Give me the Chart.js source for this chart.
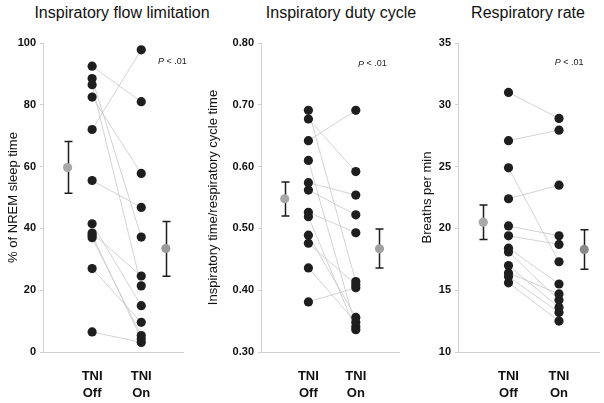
<!DOCTYPE html>
<html lang="en">
<head>
<meta charset="utf-8">
<title>TNI panels</title>
<script src="https://cdn.jsdelivr.net/npm/chart.js@4.4.1/dist/chart.umd.min.js"></script>
<style>
  body { margin: 0; background: #fff; }
  #Page { position: relative; width: 604px; height: 403px; overflow: hidden; font-family: "Liberation Sans", Arial, sans-serif; }
  .ttl { position: absolute; top: 4px; font-size: 16px; color: #111; white-space: nowrap; transform: translateX(-50%); }
  canvas { position: absolute; top: 0; }
</style>
</head>
<body>
<div id="Page">
  <div class="ttl" style="left:122px">Inspiratory flow limitation</div>
  <div class="ttl" style="left:341px">Inspiratory duty cycle</div>
  <div class="ttl" style="left:528px">Respiratory rate</div>
  <canvas id="flowChart" style="left:0px" width="200" height="403"></canvas>
  <canvas id="dutyChart" style="left:200px" width="204" height="403"></canvas>
  <canvas id="rateChart" style="left:400px" width="204" height="403"></canvas>
</div>
<script>
// x positions: 1 = mean off, 2 = TNI Off, 4 = TNI On, 5 = mean on
const groups = ['TNI Off', 'TNI On'];

// Inspiratory flow limitation (% of NREM sleep time), paired by patient
const flowOff = [92.5, 88.5, 86.5, 82.5, 72.0, 55.5, 41.5, 38.5, 37.8, 37.0, 27.0, 6.5];
const flowOn  = [81.0, 37.2, 21.4, 57.8, 97.8, 46.8, 15.0, 24.6, 4.2, 5.3, 9.6, 3.1];
const flowMean = [59.7, 33.5];
const flowHi = [68.1, 42.2];
const flowLo = [51.4, 24.5];

// Inspiratory duty cycle
const dutyOff = [0.691, 0.677, 0.642, 0.610, 0.574, 0.562, 0.526, 0.519, 0.489, 0.476, 0.436, 0.381];
const dutyOn  = [0.414, 0.592, 0.691, 0.341, 0.554, 0.522, 0.493, 0.336, 0.356, 0.409, 0.348, 0.404];
const dutyMean = [0.548, 0.467];
const dutyHi = [0.575, 0.499];
const dutyLo = [0.520, 0.436];

// Respiratory rate (breaths per min)
const rateOff = [31.0, 27.1, 24.9, 22.4, 20.2, 19.4, 18.4, 18.1, 17.0, 16.4, 16.1, 15.6];
const rateOn  = [28.9, 27.95, 17.3, 23.5, 19.4, 18.7, 15.5, 14.2, 13.6, 14.7, 13.2, 12.5];
const rateMean = [20.5, 18.3];
const rateHi = [21.9, 19.9];
const rateLo = [19.1, 16.7];

const FONT = '"Liberation Sans", Arial, sans-serif';

// error bars + "P < .01" note, drawn through the chart scales
const extrasPlugin = {
  id: 'extras',
  beforeDatasetsDraw(chart) {
    const o = chart.options.plugins.extras;
    const ctx = chart.ctx, xs = chart.scales.x, ys = chart.scales.y;
    ctx.save();
    ctx.strokeStyle = '#1c1c1c';
    ctx.lineWidth = 1.5;
    [1, 5].forEach((xv, i) => {
      const px = Math.round(xs.getPixelForValue(xv)) + 0.5;
      const top = ys.getPixelForValue(o.hi[i]), bot = ys.getPixelForValue(o.lo[i]);
      ctx.beginPath();
      ctx.moveTo(px, top); ctx.lineTo(px, bot);
      ctx.moveTo(px - 4, top); ctx.lineTo(px + 4, top);
      ctx.moveTo(px - 4, bot); ctx.lineTo(px + 4, bot);
      ctx.stroke();
    });
    const nx = xs.getPixelForValue(o.note[0]), ny = ys.getPixelForValue(o.note[1]);
    ctx.fillStyle = '#222';
    ctx.textBaseline = 'middle';
    ctx.textAlign = 'left';
    ctx.font = 'italic 9px ' + FONT;
    const w1 = ctx.measureText('P').width;
    ctx.font = '9px ' + FONT;
    const w2 = ctx.measureText(' < .01').width;
    let sx = nx - (w1 + w2) / 2;
    ctx.font = 'italic 9px ' + FONT;
    ctx.fillText('P', sx, ny);
    ctx.font = '9px ' + FONT;
    ctx.fillText(' < .01', sx + w1, ny);
    ctx.restore();
  }
};

function makePanel(id, off, on, mean, hi, lo, opt) {
  const datasets = [];
  for (let i = 0; i < off.length; i++) {
    datasets.push({
      type: 'line',
      data: [{x: 2, y: off[i]}, {x: 4, y: on[i]}],
      borderColor: '#c8c8c8',
      borderWidth: 0.8,
      pointRadius: 0,
      order: 3
    });
  }
  datasets.push({
    type: 'scatter',
    data: off.map(v => ({x: 2, y: v})).concat(on.map(v => ({x: 4, y: v}))),
    backgroundColor: '#1e1e1e',
    borderWidth: 0,
    pointRadius: 4.6,
    order: 1
  });
  datasets.push({
    type: 'scatter',
    data: [{x: 1, y: mean[0]}, {x: 5, y: mean[1]}],
    backgroundColor: opt.meanColors,
    borderWidth: 0,
    pointRadius: 4.6,
    order: 0
  });
  return new Chart(document.getElementById(id), {
    type: 'scatter',
    data: { datasets: datasets },
    plugins: [extrasPlugin],
    options: {
      responsive: false,
      animation: false,
      events: [],
      layout: { padding: { top: 43, right: opt.padRight, left: opt.padLeft, bottom: 0 } },
      plugins: {
        legend: { display: false },
        tooltip: { enabled: false },
        extras: { hi: hi, lo: lo, note: opt.note }
      },
      scales: {
        x: {
          type: 'linear',
          min: 0,
          max: opt.xMax,
          afterBuildTicks: s => { s.ticks = [{value: 2}, {value: 4}]; },
          afterFit: s => { s.height = 51; },
          ticks: {
            padding: 8,
            color: '#111',
            font: { family: FONT, size: 13, weight: 'bold', lineHeight: 1.3 },
            callback: v => v === 2 ? ['TNI', 'Off'] : ['TNI', 'On']
          },
          grid: { display: false },
          border: { color: '#d0d0d0', width: 1 }
        },
        y: {
          min: opt.yMin,
          max: opt.yMax,
          afterBuildTicks: s => {
            s.ticks = opt.yTicks.map(v => ({value: v}));
          },
          afterFit: s => { s.width = opt.yWidth; },
          ticks: {
            padding: 4,
            color: '#111',
            font: { family: FONT, size: 11, weight: 'bold' },
            callback: v => opt.fmt(v)
          },
          grid: { drawOnChartArea: false, drawTicks: true, tickLength: 3, color: '#d0d0d0' },
          border: { color: '#d0d0d0', width: 1 },
          title: {
            display: true,
            text: opt.yTitle,
            color: '#111',
            padding: { top: 0, bottom: 6 },
            font: { family: FONT, size: 13 }
          }
        }
      }
    }
  });
}

makePanel('flowChart', flowOff, flowOn, flowMean, flowHi, flowLo, {
  yMin: 0, yMax: 100, yTicks: [0, 20, 40, 60, 80, 100], fmt: v => String(v),
  yTitle: '% of NREM sleep time', padLeft: 6, yWidth: 37, padRight: 17, xMax: 5.7,
  note: [5.27, 94], meanColors: ['#a8a8a8', '#9a9a9a']
});
makePanel('dutyChart', dutyOff, dutyOn, dutyMean, dutyHi, dutyLo, {
  yMin: 0.3, yMax: 0.8, yTicks: [0.3, 0.4, 0.5, 0.6, 0.7, 0.8], fmt: v => v.toFixed(2),
  yTitle: 'Inspiratory time/respiratory cycle time', padLeft: 6, yWidth: 55, padRight: 0, xMax: 5.84,
  note: [4.7, 0.766], meanColors: ['#a8a8a8', '#a0a0a0']
});
makePanel('rateChart', rateOff, rateOn, rateMean, rateHi, rateLo, {
  yMin: 10, yMax: 35, yTicks: [10, 15, 20, 25, 30, 35], fmt: v => String(v),
  yTitle: 'Breaths per min', padLeft: 20, yWidth: 38, padRight: 0, xMax: 5.6,
  note: [4.4, 33.4], meanColors: ['#a8a8a8', '#8a8a8a']
});
</script>
</body>
</html>
